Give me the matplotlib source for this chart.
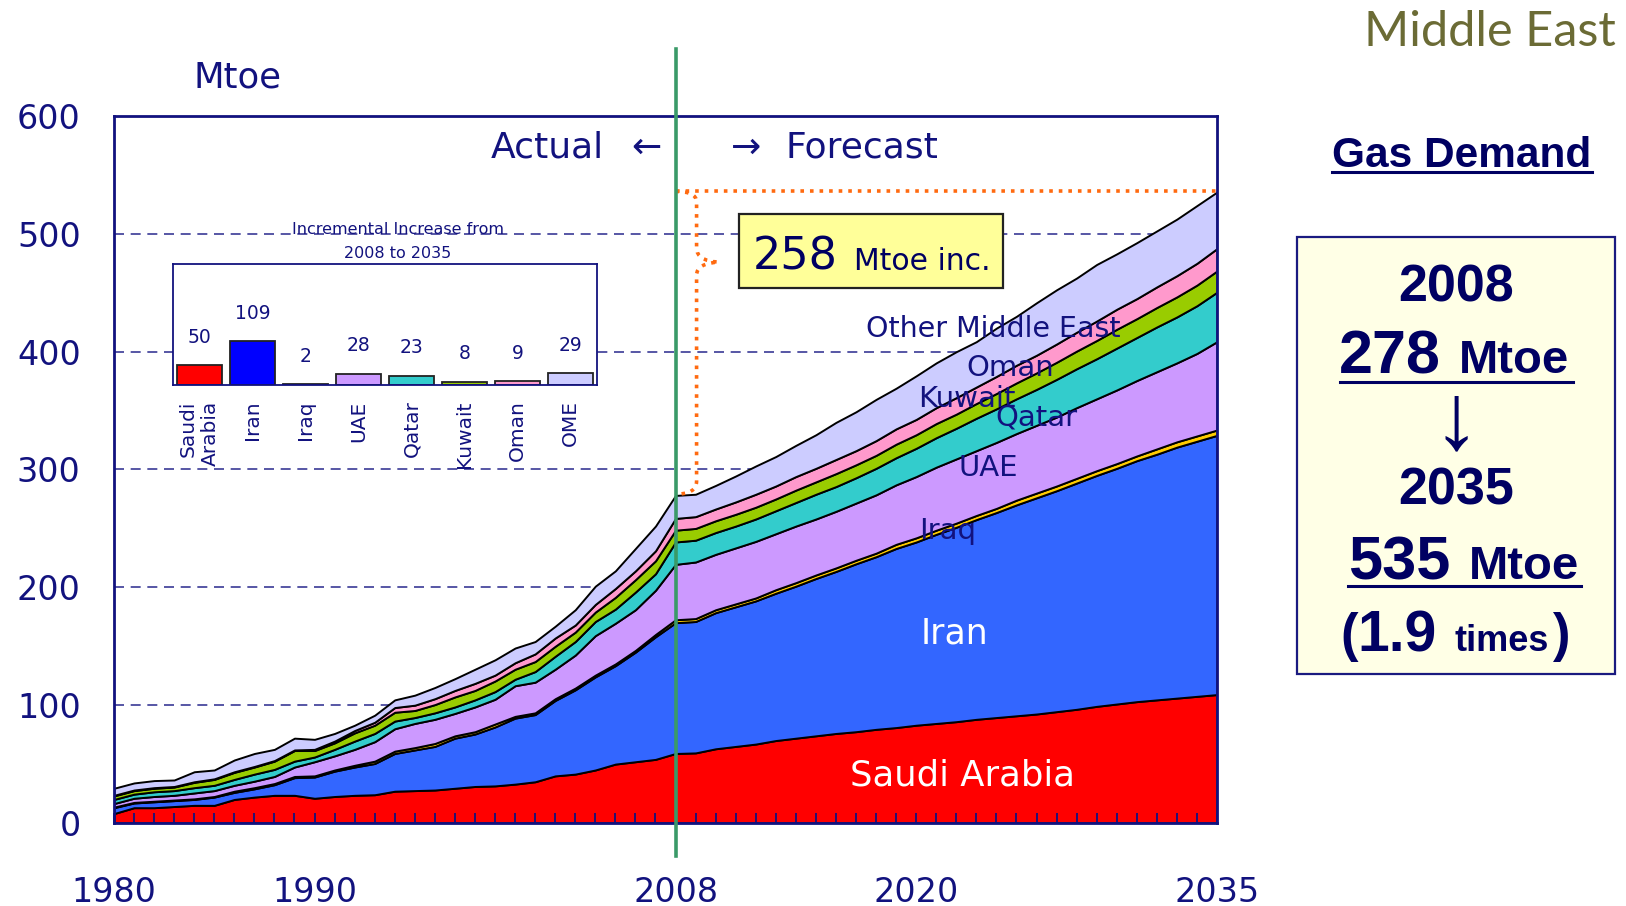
import matplotlib
matplotlib.use("Agg")
import matplotlib.pyplot as plt
from matplotlib.patches import Rectangle, PathPatch
from matplotlib.path import Path
from matplotlib.lines import Line2D

plt.rcParams['font.family'] = ['DejaVu Sans']

# ---------------- data ----------------
years = list(range(1980, 2036))

saudi_arabia = [8, 13, 13, 14, 15, 15, 20, 22, 23.5, 23.5, 21, 22.5, 23.5, 24, 27, 27.5, 28, 29.5, 31, 31.5,
                33, 35, 40, 41.5, 45, 50, 52, 54,
                59, 59.5, 63, 65, 67, 70, 72, 74, 76, 77.5, 79.5, 81, 83, 84.5, 86, 88, 89.5, 91, 92.5, 94.5,
                96.5, 99, 101, 103, 104.5, 106, 107.5, 109]
iran = [5, 4, 5, 5, 5, 7, 6, 7, 9, 15, 18, 21.5, 24, 26.5, 32, 34.5, 37, 42.5, 44.5, 50,
        56, 57, 64, 71.5, 79, 83.5, 93, 104,
        111, 111.5, 115.5, 118.5, 121.5, 125, 129, 133.5, 137.5, 142.5, 146.5, 152, 155.5, 160.5, 165, 169.5,
        174, 179, 183.5, 187.5, 192, 196, 200, 204.5, 208.5, 213, 216.5, 220]
iraq = [0.5, 0.5, 0.5, 0.5, 0.5, 0.5, 1, 1, 1, 1, 1, 1, 1.5, 2, 2, 2, 2.5, 2, 2, 2.5,
        1.5, 1.5, 1.5, 1.5, 1.5, 1.5, 1.5, 2,
        2.5, 2.5, 2.5, 2.5, 2.5, 3, 3, 3, 3, 3, 3, 3.5, 3.5, 3.5, 3.5, 3.5, 3.5, 4, 4, 4,
        4, 4, 4, 4, 4.5, 4.5, 4.5, 4.5]
uae = [3, 3.5, 4, 4, 5, 5, 5, 5.5, 6, 8, 12, 12, 13.5, 16.5, 19, 20.5, 20.5, 19, 21, 21,
       26, 26, 25, 28, 33.5, 34.5, 34.5, 37.5,
       47, 48, 47, 47.5, 48, 47.5, 48, 47.5, 48, 48.5, 49.5, 50.5, 52, 53.5, 54.5, 55, 56, 56.5, 57.5, 58.5,
       60, 61, 62.5, 64, 65.5, 67, 70, 75]
qatar = [3.5, 3.5, 4, 4, 4.5, 4.5, 5, 6, 6, 5, 4, 5.5, 7, 7, 6.5, 5, 5.5, 5.5, 6, 6.5,
         5.5, 9, 11, 11.5, 12, 12, 15, 14,
         19, 18.5, 18.5, 18.5, 19, 19.5, 20, 21, 21, 21.5, 22.5, 23, 24, 25, 26, 27.5, 28.5, 29.5, 30.5, 32,
         33, 34, 35.5, 36.5, 38, 39, 40.5, 42]
kuwait = [3, 3, 3, 3, 4.5, 5, 6, 6, 7, 9, 5.5, 5.5, 7, 7, 7.5, 6, 7, 8.5, 8, 9,
          8.5, 8.5, 8.5, 8, 8, 10, 10.5, 11,
          10, 10, 10, 10, 10, 10, 10.5, 10.5, 11, 11, 11, 11.5, 11.5, 12, 12, 12.5, 13, 13.5, 14, 14.5,
          15, 15.5, 16, 16, 16.5, 17, 17.5, 18]
oman = [0.5, 0.5, 0.5, 0.5, 0.5, 0.5, 0.5, 0.5, 0.5, 0.5, 1, 1.5, 2, 2.5, 4, 4.5, 5, 5.5, 6, 5,
        5.5, 6.5, 7, 6, 6.5, 7.5, 7.5, 8.5,
        10, 10, 10, 10.5, 11, 11, 11.5, 11.5, 12, 12, 12.5, 13, 13, 13.5, 14, 14, 14.5, 15, 15, 15.5,
        16, 16.5, 17, 17, 17.5, 18, 18.5, 19]
other_middle_east = [6, 6, 6, 5.5, 8.5, 7.5, 10, 11, 9.5, 10, 8.5, 6.5, 4.5, 6, 6.5, 8.5, 9.5, 10, 12, 13,
                     12.5, 10.5, 10, 13, 15.5, 15, 19, 21,
                     19.5, 19, 20, 22, 24, 25, 26.5, 28.5, 31.5, 33, 35, 34.5, 37, 38, 39, 38.5, 41, 41.5,
                     44.5, 46, 46, 48, 47, 47.5, 47.5, 48, 49, 48]

series_names = ['Saudi Arabia', 'Iran', 'Iraq', 'UAE', 'Qatar', 'Kuwait', 'Oman', 'Other Middle East']
area_colors = ['#FF0000', '#3366FF', '#FFCC00', '#CC99FF', '#33CCCC', '#99CC00', '#FF99CC', '#CCCCFF']

inset_labels = ['Saudi\nArabia', 'Iran', 'Iraq', 'UAE', 'Qatar', 'Kuwait', 'Oman', 'OME']
inset_values = [50, 109, 2, 28, 23, 8, 9, 29]
inset_colors = ['#FF0000', '#0000FF', '#FFCC00', '#CC99FF', '#33CCCC', '#99CC00', '#FF99CC', '#CCCCFF']

xtick_years = [1980, 1990, 2008, 2020, 2035]
ytick_vals = [0, 100, 200, 300, 400, 500, 600]

# ---------------- figure ----------------
W, H = 1626, 906
fig = plt.figure(figsize=(W / 100, H / 100), dpi=100)
NAVY = '#12127E'
BOXNAVY = '#000062'


def fx(px):
    return px / W


def fy(py):
    return 1 - py / H


ax = fig.add_axes([114 / W, 1 - 823 / H, (1217 - 114) / W, (823 - 116) / H])
ax.set_xlim(1980, 2035)
ax.set_ylim(0, 600)

for v in [100, 200, 300, 400, 500]:
    ax.axhline(v, color='#3A3A96', lw=1.2, ls=(0, (6, 4)), zorder=0.5)

ax.stackplot(years, saudi_arabia, iran, iraq, uae, qatar, kuwait, oman, other_middle_east,
             colors=area_colors, edgecolor='black', linewidth=1.4, zorder=1)

for sp in ax.spines.values():
    sp.set_color(NAVY)
    sp.set_linewidth(2)
    sp.set_zorder(6)

ax.set_xticks(xtick_years)
ax.set_xticklabels([str(y) for y in xtick_years])
ax.set_xticks(years, minor=True)
ax.xaxis.remove_overlapping_locs = False
ax.tick_params(axis='x', which='minor', direction='in', length=7, width=1.3, color=NAVY)
ax.tick_params(axis='x', which='major', length=0, pad=38, labelsize=24, labelcolor=NAVY)
ax.set_yticks(ytick_vals)
ax.set_yticklabels([str(v) for v in ytick_vals])
ax.tick_params(axis='y', length=0, pad=24, labelsize=24, labelcolor=NAVY)

# 2008 divider
ax.plot([2008, 2008], [-28, 657], color='#3A9A68', lw=2.6, clip_on=False, zorder=7)

# orange dotted top line and brace
ORANGE = '#FF6A10'
ax.plot([2008, 2035], [536, 536], ls=':', color=ORANGE, lw=2.6, zorder=5)
verts = [(2008.0, 536), (2009.05, 536), (2009.05, 527), (2009.05, 488),
         (2009.05, 477), (2010.15, 476), (2009.05, 475), (2009.05, 465),
         (2009.05, 290), (2009.05, 279), (2008.0, 279)]
codes = [Path.MOVETO, Path.CURVE3, Path.CURVE3, Path.LINETO,
         Path.CURVE3, Path.CURVE3, Path.CURVE3, Path.CURVE3,
         Path.LINETO, Path.CURVE3, Path.CURVE3]
ax.add_patch(PathPatch(Path(verts, codes), facecolor='none', edgecolor=ORANGE, lw=2.6,
                       ls=':', zorder=5, clip_on=False))

# yellow box
ax.add_patch(Rectangle((2011.17, 454), 13.17, 63, facecolor='#FFFF99', edgecolor='#222222',
                       lw=1.6, zorder=6))
ax.text(2011.85, 469.5, '258', fontsize=32, color=BOXNAVY, va='baseline', ha='left', zorder=7)
ax.text(2016.9, 469.5, 'Mtoe inc.', fontsize=21.5, color=BOXNAVY, va='baseline', ha='left', zorder=7)

# Actual / Forecast
ax.text(2004.45, 564.5, 'Actual', fontsize=26, color=NAVY, ha='right', va='baseline')
ax.text(2007.3, 564.5, '\u2190', fontsize=26, color=NAVY, ha='right', va='baseline')
ax.text(2010.75, 564.5, '\u2192', fontsize=26, color=NAVY, ha='left', va='baseline')
ax.text(2013.5, 564.5, 'Forecast', fontsize=26, color=NAVY, ha='left', va='baseline')

# area labels
ax.text(2022.3, 40, 'Saudi Arabia', fontsize=25.5, color='white', ha='center', va='center', zorder=3)
ax.text(2021.9, 160.5, 'Iran', fontsize=25, color='white', ha='center', va='center', zorder=3)
ax.text(2021.55, 248, 'Iraq', fontsize=21, color=NAVY, ha='center', va='center', zorder=3)
ax.text(2023.6, 301.5, 'UAE', fontsize=21, color=NAVY, ha='center', va='center', zorder=3)
ax.text(2026.0, 344, 'Qatar', fontsize=21, color=NAVY, ha='center', va='center', zorder=3)
ax.text(2022.55, 360, 'Kuwait', fontsize=21, color=NAVY, ha='center', va='center', zorder=3)
ax.text(2024.7, 386, 'Oman', fontsize=21, color=NAVY, ha='center', va='center', zorder=3)
ax.text(2023.85, 419, 'Other Middle East', fontsize=20.5, color=NAVY, ha='center', va='center', zorder=3)

# Mtoe unit label
fig.text(fx(237), fy(78), 'Mtoe', fontsize=25.5, color=NAVY, ha='center', va='center')

# ---------------- inset bar chart ----------------
axi = fig.add_axes([173 / W, 1 - 385 / H, (597 - 173) / W, (385 - 264) / H])
axi.set_facecolor('white')
xs = list(range(len(inset_values)))
axi.bar(xs, inset_values, width=0.85, color=inset_colors, edgecolor='#222222', linewidth=1.3)
axi.set_xlim(-0.5, 7.5)
axi.set_ylim(0, 300)
for x, v in zip(xs, inset_values):
    axi.annotate(str(v), (x, v), xytext=(0, 20), textcoords='offset points', ha='center', va='center',
                 fontsize=13.5, color=NAVY)
axi.set_yticks([])
axi.set_xticks(xs)
axi.set_xticklabels(inset_labels, rotation=90, ha='center', va='top', multialignment='right',
                    fontsize=14.5, color=NAVY)
axi.tick_params(axis='x', length=0, pad=11)
for sp in axi.spines.values():
    sp.set_color(NAVY)
    sp.set_linewidth(1.3)
fig.text(fx(398), fy(230), 'Incremental Increase from', fontsize=11.5, color=NAVY, ha='center', va='center')
fig.text(fx(398), fy(253), '2008 to 2035', fontsize=11.5, color=NAVY, ha='center', va='center')

# ---------------- right panel ----------------
fig.text(fx(1616), fy(46), 'Middle East', fontsize=35, color='#6B6B35', ha='right', va='baseline',
         family='Lato')

BOLD = dict(family='Liberation Sans', weight='bold', color=BOXNAVY)
fig.text(fx(1332), fy(167), 'Gas Demand', fontsize=30.5, ha='left', va='baseline', **BOLD)


def underline(x0, x1, y):
    fig.add_artist(Line2D([fx(x0), fx(x1)], [fy(y), fy(y)], transform=fig.transFigure,
                          color=BOXNAVY, lw=2.2))


underline(1332, 1592, 171.5)

fig.add_artist(Rectangle((fx(1297), fy(674)), (1615 - 1297) / W, (674 - 237) / H,
                         transform=fig.transFigure, facecolor='#FFFFE6', edgecolor='#1A1A80', lw=1.6))

fig.text(fx(1456), fy(301), '2008', fontsize=37.5, ha='center', va='baseline', **BOLD)
fig.text(fx(1339), fy(373), '278', fontsize=44, ha='left', va='baseline', **BOLD)
fig.text(fx(1459), fy(373), 'Mtoe', fontsize=34, ha='left', va='baseline', **BOLD)
underline(1340, 1573, 381.5)
fig.text(fx(1456), fy(424), '\u2193', fontsize=68, ha='center', va='center', color=BOXNAVY,
         family=['Liberation Sans', 'DejaVu Sans'])
fig.text(fx(1456), fy(505), '2035', fontsize=37.5, ha='center', va='baseline', **BOLD)
fig.text(fx(1348), fy(579), '535', fontsize=44, ha='left', va='baseline', **BOLD)
fig.text(fx(1469), fy(579), 'Mtoe', fontsize=34, ha='left', va='baseline', **BOLD)
underline(1348, 1581, 586)
fig.text(fx(1340), fy(651), '(', fontsize=38, ha='left', va='baseline', **BOLD)
fig.text(fx(1357), fy(651), '1.9', fontsize=41, ha='left', va='baseline', **BOLD)
fig.text(fx(1454), fy(651), 'times', fontsize=26, ha='left', va='baseline', **BOLD)
fig.text(fx(1553), fy(651), ')', fontsize=38, ha='left', va='baseline', **BOLD)

fig.savefig('out.png', dpi=100)
